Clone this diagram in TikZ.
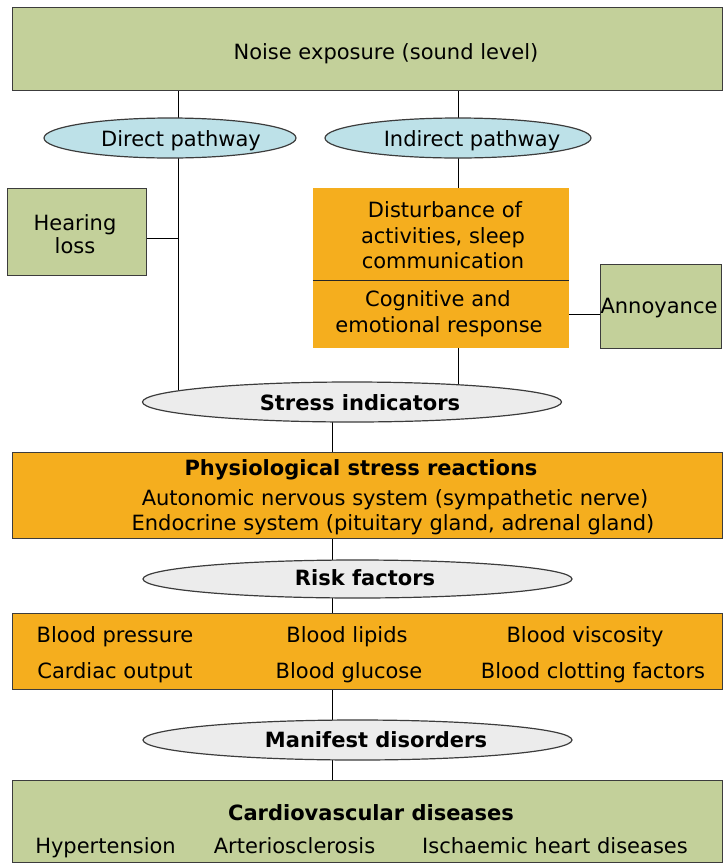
\documentclass[tikz,border=0pt]{standalone}
\usepackage{fontspec}
\setmainfont{DejaVu Sans}
\usetikzlibrary{shapes.geometric}
\pgfdeclarelayer{background}
\pgfsetlayers{background,main}
\definecolor{boxgreen}{RGB}{195,208,154}
\definecolor{boxorange}{RGB}{245,174,30}
\definecolor{ellblue}{RGB}{189,225,232}
\definecolor{ellgray}{RGB}{236,236,236}
\definecolor{edge}{RGB}{60,60,60}
\tikzset{
  greenbox/.style={draw=edge, line width=1pt, fill=boxgreen, rectangle, inner sep=0pt},
  orangebox/.style={draw=edge, line width=1pt, fill=boxorange, rectangle, inner sep=0pt},
  plainorange/.style={fill=boxorange, rectangle, inner sep=0pt},
  blueell/.style={draw=edge, line width=1.2pt, fill=ellblue, ellipse, inner sep=0pt},
  grayell/.style={draw=edge, line width=1.2pt, fill=ellgray, ellipse, inner sep=0pt},
  txt/.style={anchor=base, inner sep=0pt, font=\fontsize{21}{25.5}\selectfont},
  btxt/.style={anchor=base, inner sep=0pt, font=\fontsize{21}{25.5}\selectfont\bfseries},
  conn/.style={draw=black, line width=0.9pt}
}
\begin{document}
\begin{tikzpicture}[x=1pt,y=-1pt]
\useasboundingbox (0,0) rectangle (725,863);
% boxes
\node[greenbox, minimum width=710pt, minimum height=83pt] (noise) at (367,48.5) {};
\node[blueell, minimum width=252pt, minimum height=40pt] (direct) at (170,138) {};
\node[blueell, minimum width=266pt, minimum height=40pt] (indirect) at (458,138) {};
\node[greenbox, minimum width=139pt, minimum height=87pt] (hearing) at (76.5,231.5) {};
\node[plainorange, minimum width=256pt, minimum height=92pt] (dist) at (441,234) {};
\node[plainorange, minimum width=256pt, minimum height=68pt] (cog) at (441,314) {};
\node[greenbox, minimum width=121pt, minimum height=84pt] (annoy) at (660.5,306) {};
\node[grayell, minimum width=419pt, minimum height=40pt] (stress) at (352,402) {};
\node[orangebox, minimum width=710pt, minimum height=86pt] (physio) at (367,495.5) {};
\node[grayell, minimum width=429pt, minimum height=38pt] (risk) at (357.5,579) {};
\node[orangebox, minimum width=710pt, minimum height=76pt] (rbox) at (367,651) {};
\node[grayell, minimum width=429pt, minimum height=40pt] (manifest) at (357.5,740) {};
\node[greenbox, minimum width=710pt, minimum height=82pt] (cvd) at (367,821) {};
% divider
\draw[draw=black!85, line width=0.9pt] (dist.south west) -- (dist.south east);
% texts
\node[txt] (tnoise) at (386,59) {Noise exposure (sound level)};
\node[txt] (tdirect) at (181,146) {Direct pathway};
\node[txt] (tindirect) at (472,146) {Indirect pathway};
\node[txt] (thear1) at (75,230) {Hearing};
\node[txt] (thear2) at (75,253) {loss};
\node[txt] (tdist1) at (445,217) {Disturbance of};
\node[txt] (tdist2) at (443,243) {activities, sleep};
\node[txt] (tdist3) at (443,268) {communication};
\node[txt] (tcog1) at (438,306) {Cognitive and};
\node[txt] (tcog2) at (439,332) {emotional response};
\node[txt] (tannoy) at (659,313) {Annoyance};
\node[btxt] (tstress) at (360,410) {Stress indicators};
\node[btxt] (tphys) at (361,475) {Physiological stress reactions};
\node[txt] (tauto) at (395,505) {Autonomic nervous system (sympathetic nerve)};
\node[txt] (tendo) at (393,530) {Endocrine system (pituitary gland, adrenal gland)};
\node[btxt] (trisk) at (365,585) {Risk factors};
\node[txt] (tbp) at (115,642) {Blood pressure};
\node[txt] (tbl) at (347,642) {Blood lipids};
\node[txt] (tbv) at (585,642) {Blood viscosity};
\node[txt] (tco) at (115,678) {Cardiac output};
\node[txt] (tbg) at (349,678) {Blood glucose};
\node[txt] (tbc) at (593,678) {Blood clotting factors};
\node[btxt] (tman) at (376,747) {Manifest disorders};
\node[btxt] (tcvd) at (371,820) {Cardiovascular diseases};
\node[txt] (thyp) at (105.5,853) {Hypertension};
\node[txt] (tart) at (294.5,853) {Arteriosclerosis};
\node[txt] (tisch) at (555,853) {Ischaemic heart diseases};
% connectors
\coordinate (dl) at (178,0);
\coordinate (ml) at (332,0);
\begin{pgfonlayer}{background}
\draw[conn] (dl |- noise.south) -- (dl |- stress.center);
\draw[conn] (indirect.center |- noise.south) -- (indirect.center |- dist.north);
\draw[conn] (indirect.center |- cog.south) -- (indirect.center |- stress.center);
\draw[conn] ([yshift=-6.5pt]hearing.east) -- ([yshift=-6.5pt]hearing.east -| dl);
\draw[conn] (cog.east) -- (cog.east -| annoy.west);
\draw[conn] (ml |- stress.center) -- (ml |- cvd.north);
\end{pgfonlayer}
\end{tikzpicture}
\end{document}
